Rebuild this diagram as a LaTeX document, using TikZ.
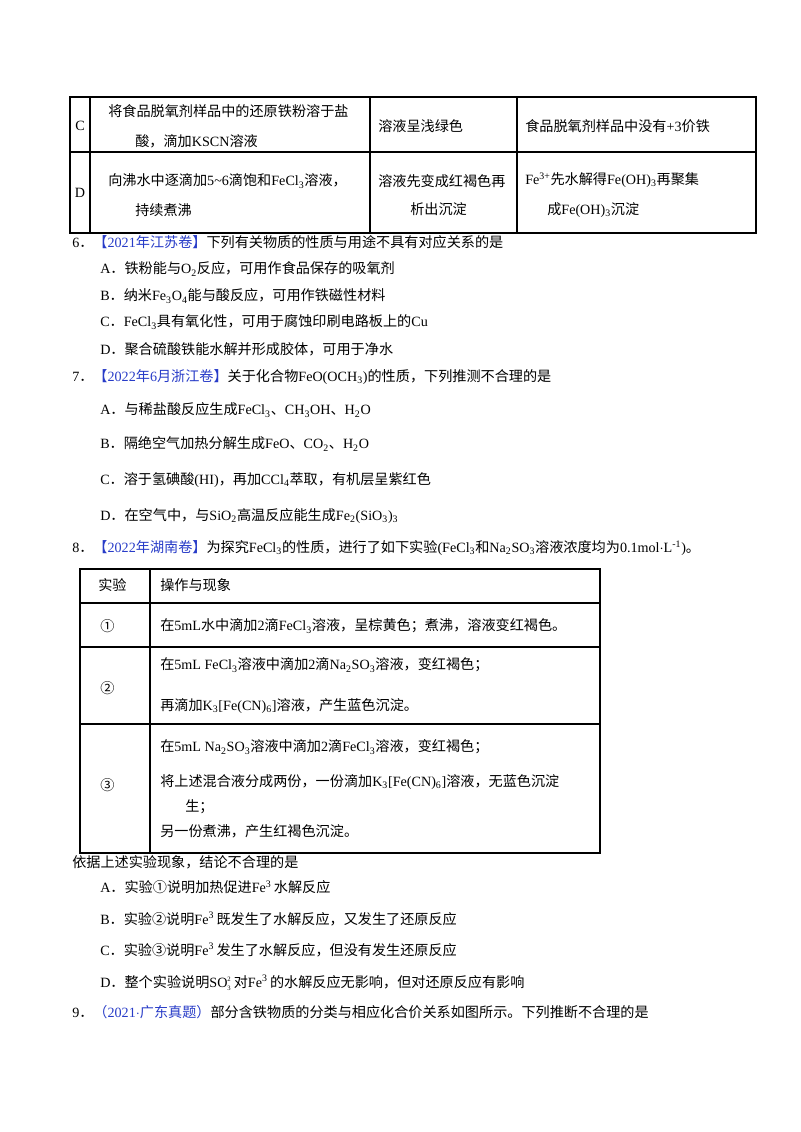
\documentclass[tikz,border=0pt]{standalone}
\usepackage{fontspec}
\setmainfont{Noto Sans CJK SC}
\newfontfamily\latf{Liberation Serif}
\newcommand{\E}[1]{{\latf #1}}
\newcommand{\sbx}[1]{\textsubscript{\latf #1}}
\newcommand{\spx}[1]{\textsuperscript{\latf #1}}
\definecolor{qblue}{RGB}{40,60,200}
\begin{document}
\begin{tikzpicture}[x=0.75pt,y=-0.75pt,
  t/.style={anchor=west,inner sep=0pt,font=\fontsize{10.6}{12}\selectfont},
  ln/.style={line width=0.9pt}]
\useasboundingbox[fill=white] (0,0) rectangle (800,1132);
% table 1
\draw[ln] (70,97) rectangle (756,233);
\draw[ln] (70,152) -- (756,152);
\foreach \x in {90,370,517} \draw[ln] (\x,97) -- (\x,233);
\node[t,anchor=center] (c0) at (80,126) {\E{C}};
\node[t] (c1) at (108,111) {将食品脱氧剂样品中的还原铁粉溶于盐};
\node[t] (c2) at (135,141) {酸，滴加\E{KSCN}溶液};
\node[t] (c3) at (378,126) {溶液呈浅绿色};
\node[t] (c4) at (525,126) {食品脱氧剂样品中没有\E{+3}价铁};
\node[t,anchor=center] (d0) at (80,193) {\E{D}};
\node[t] (d1) at (108,181) {向沸水中逐滴加\E{5\textasciitilde6}滴饱和\E{FeCl}\sbx{3}溶液，};
\node[t] (d2) at (135,210) {持续煮沸};
\node[t] (d3) at (378,181) {溶液先变成红褐色再};
\node[t] (d4) at (410,209) {析出沉淀};
\node[t] (d5) at (525,180) {\E{Fe}\spx{3+}先水解得\E{Fe(OH)}\sbx{3}再聚集};
\node[t] (d6) at (547,210) {成\E{Fe(OH)}\sbx{3}沉淀};
% Q6
\node[t] (q6) at (72,242) {\E{6}．\textcolor{qblue}{【\E{2021}年江苏卷】}下列有关物质的性质与用途不具有对应关系的是};
\node[t] (q6a) at (100,269) {\E{A}．铁粉能与\E{O}\sbx{2}反应，可用作食品保存的吸氧剂};
\node[t] (q6b) at (100,296) {\E{B}．纳米\E{Fe}\sbx{3}\E{O}\sbx{4}能与酸反应，可用作铁磁性材料};
\node[t] (q6c) at (100,322) {\E{C}．\E{FeCl}\sbx{3}具有氧化性，可用于腐蚀印刷电路板上的\E{Cu}};
\node[t] (q6d) at (100,349) {\E{D}．聚合硫酸铁能水解并形成胶体，可用于净水};
% Q7
\node[t] (q7) at (72,377) {\E{7}．\textcolor{qblue}{【\E{2022}年\E{6}月浙江卷】}关于化合物\E{FeO(OCH}\sbx{3}\E{)}的性质，下列推测不合理的是};
\node[t] (q7a) at (100,410) {\E{A}．与稀盐酸反应生成\E{FeCl}\sbx{3}、\E{CH}\sbx{3}\E{OH}、\E{H}\sbx{2}\E{O}};
\node[t] (q7b) at (100,444) {\E{B}．隔绝空气加热分解生成\E{FeO}、\E{CO}\sbx{2}、\E{H}\sbx{2}\E{O}};
\node[t] (q7c) at (100,480) {\E{C}．溶于氢碘酸\E{(HI)}，再加\E{CCl}\sbx{4}萃取，有机层呈紫红色};
\node[t] (q7d) at (100,516) {\E{D}．在空气中，与\E{SiO}\sbx{2}高温反应能生成\E{Fe}\sbx{2}\E{(SiO}\sbx{3}\E{)}\sbx{3}};
% Q8
\node[t] (q8) at (72,548) {\E{8}．\textcolor{qblue}{【\E{2022}年湖南卷】}为探究\E{FeCl}\sbx{3}的性质，进行了如下实验\E{(FeCl}\sbx{3}和\E{Na}\sbx{2}\E{SO}\sbx{3}溶液浓度均为\E{0.1mol$\cdot$L}\spx{-1}\E{)}。};
\draw[ln] (80,569) rectangle (600,853);
\foreach \y in {603,647,724} \draw[ln] (80,\y) -- (600,\y);
\draw[ln] (150,569) -- (150,853);
\node[t] (h1) at (98,585) {实验};
\node[t] (h2) at (160,585) {操作与现象};
\node[t] (r1) at (100,626) {①};
\node[t] (r1t) at (160,626) {在\E{5mL}水中滴加\E{2}滴\E{FeCl}\sbx{3}溶液，呈棕黄色；煮沸，溶液变红褐色。};
\node[t] (r2) at (100,688) {②};
\node[t] (r2a) at (160,665) {在\E{5mL FeCl}\sbx{3}溶液中滴加\E{2}滴\E{Na}\sbx{2}\E{SO}\sbx{3}溶液，变红褐色；};
\node[t] (r2b) at (160,706) {再滴加\E{K}\sbx{3}\E{[Fe(CN)}\sbx{6}\E{]}溶液，产生蓝色沉淀。};
\node[t] (r3) at (100,785) {③};
\node[t] (r3a) at (160,747) {在\E{5mL Na}\sbx{2}\E{SO}\sbx{3}溶液中滴加\E{2}滴\E{FeCl}\sbx{3}溶液，变红褐色；};
\node[t] (r3b) at (160,782) {将上述混合液分成两份，一份滴加\E{K}\sbx{3}\E{[Fe(CN)}\sbx{6}\E{]}溶液，无蓝色沉淀};
\node[t] (r3c) at (185,807) {生；};
\node[t] (r3d) at (160,831) {另一份煮沸，产生红褐色沉淀。};
\node[t] (s0) at (72,862) {依据上述实验现象，结论不合理的是};
\node[t] (sa) at (100,887) {\E{A}．实验①说明加热促进\E{Fe}\spx{3}\,水解反应};
\node[t] (sb) at (100,919) {\E{B}．实验②说明\E{Fe}\spx{3}\,既发生了水解反应，又发生了还原反应};
\node[t] (sc) at (100,950) {\E{C}．实验③说明\E{Fe}\spx{3}\,发生了水解反应，但没有发生还原反应};
\node[t] (sd) at (100,983) {\E{D}．整个实验说明\E{SO}$_{\hbox{\latf\tiny 3}}^{\hbox{\latf\tiny 2}}$\,对\E{Fe}\spx{3}\,的水解反应无影响，但对还原反应有影响};
\node[t] (q9) at (72,1012) {\E{9}．\textcolor{qblue}{（\E{2021$\cdot$}广东真题）}部分含铁物质的分类与相应化合价关系如图所示。下列推断不合理的是};
\end{tikzpicture}
\end{document}
